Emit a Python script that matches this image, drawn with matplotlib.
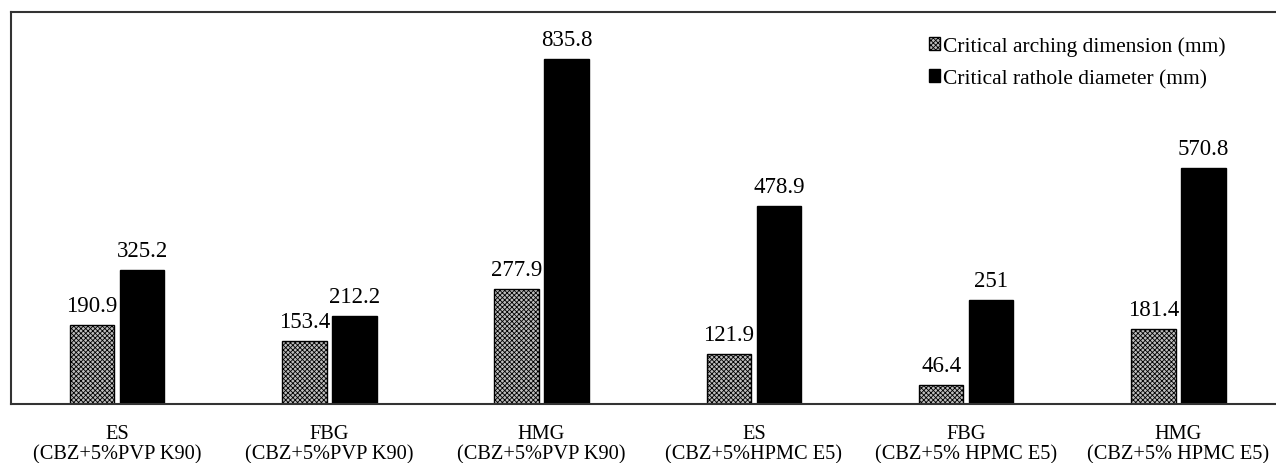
import numpy as np
import matplotlib.pyplot as plt

# ----------- data -----------
categories = ["ES\n(CBZ+5%PVP K90)", "FBG\n(CBZ+5%PVP K90)", "HMG\n(CBZ+5%PVP K90)",
              "ES\n(CBZ+5%HPMC E5)", "FBG\n(CBZ+5% HPMC E5)", "HMG\n(CBZ+5% HPMC E5)"]
arching = [190.9, 153.4, 277.9, 121.9, 46.4, 181.4]
rathole = [325.2, 212.2, 835.8, 478.9, 251, 570.8]
arching_labels = ["190.9", "153.4", "277.9", "121.9", "46.4", "181.4"]
rathole_labels = ["325.2", "212.2", "835.8", "478.9", "251", "570.8"]

plt.rcParams['font.family'] = ['Liberation Serif', 'DejaVu Serif']
plt.rcParams['hatch.color'] = '#555555'
plt.rcParams['hatch.linewidth'] = 0.6

fig = plt.figure(figsize=(12.76, 4.64), dpi=100)
ax = fig.add_axes([0.0086, 0.127, 0.9914, 0.845])

x = np.arange(len(categories))
w = 0.21
off = 0.118
b1 = ax.bar(x - off, arching, w, facecolor='#bdbdbd', edgecolor='black',
            hatch='xxxxxxx', linewidth=1.0, label='Critical arching dimension (mm)')
b2 = ax.bar(x + off, rathole, w, facecolor='black', edgecolor='black',
            linewidth=1.0, label='Critical rathole diameter (mm)')

ax.bar_label(b1, labels=arching_labels, padding=6.5, fontsize=16.5)
ax.bar_label(b2, labels=rathole_labels, padding=6.5, fontsize=16.5)

ax.set_xlim(-0.5, 5.46)
ax.set_ylim(0, 950)
ax.set_xticks(x)
ax.set_xticklabels(categories, fontsize=14.7, linespacing=1.05)
ax.tick_params(axis='x', length=0, pad=14.5)
ax.set_yticks([])
ax.spines['right'].set_visible(False)
for s in ['left', 'top', 'bottom']:
    ax.spines[s].set_linewidth(1.5)
    ax.spines[s].set_color('#333333')

ax.legend(loc='upper right', bbox_to_anchor=(0.967, 0.96), borderaxespad=0,
          frameon=False, fontsize=15.5, handlelength=0.5, handleheight=0.5,
          handletextpad=0.15, labelspacing=0.6)

plt.savefig('out.png', dpi=100)
